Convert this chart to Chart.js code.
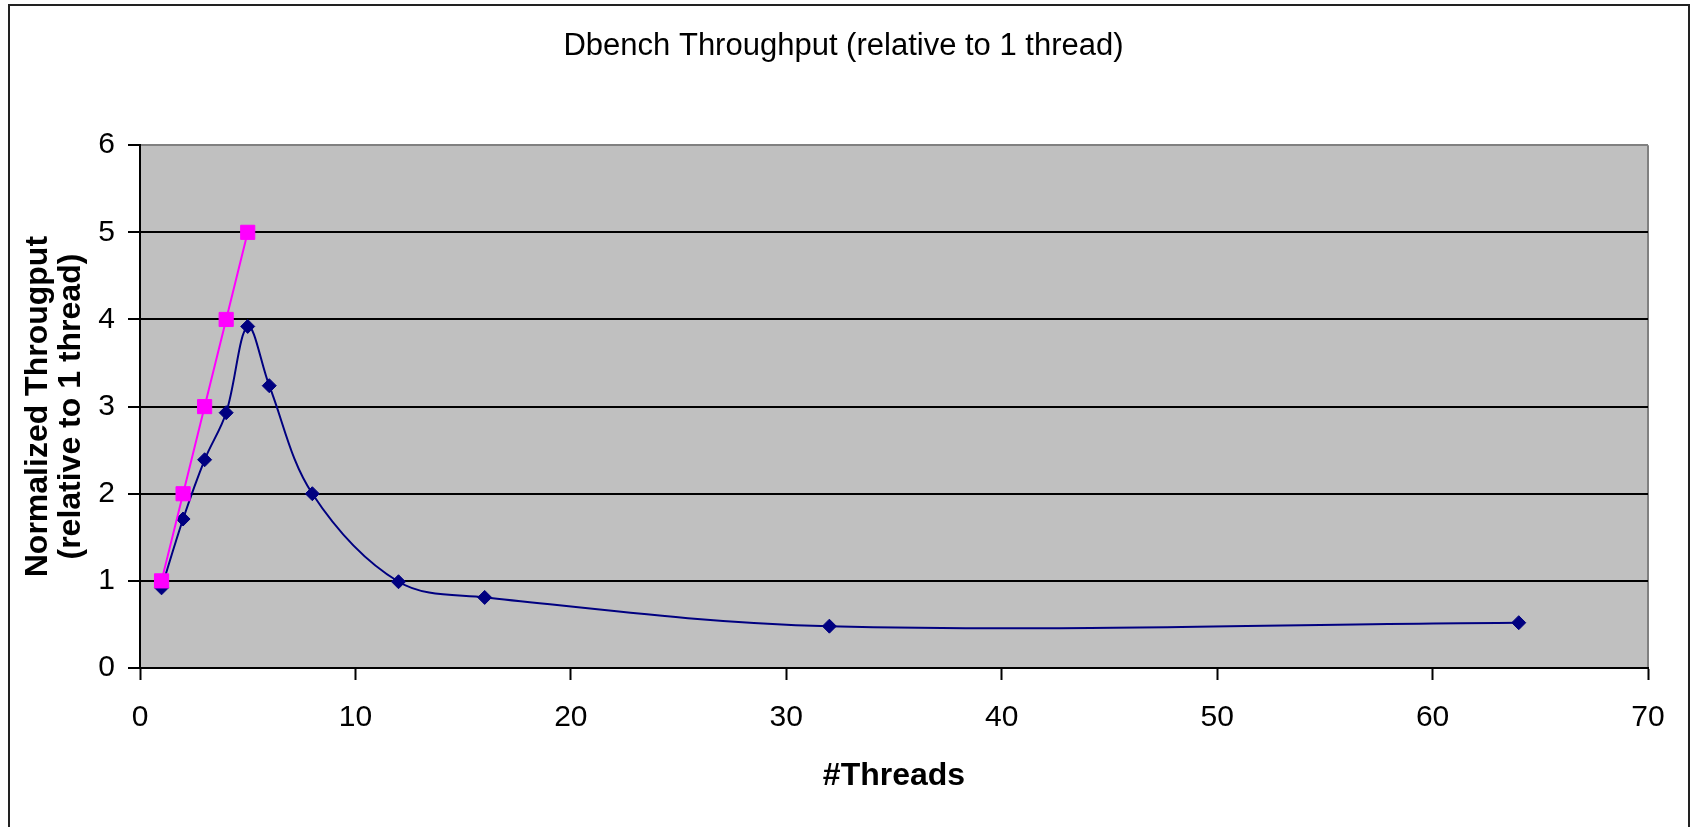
<!DOCTYPE html>
<html>
<head>
<meta charset="utf-8">
<script src="https://cdn.jsdelivr.net/npm/chart.js@4/dist/chart.umd.min.js"></script>
<style>
  html, body { margin: 0; padding: 0; background: #fff; }
  #marco { position: absolute; left: 8px; top: 4px; width: 1682px; height: 900px; border: 2px solid #222; box-sizing: border-box; }
  #contenedor { position: absolute; left: 0; top: 0; width: 1696px; height: 827px; }
</style>
</head>
<body>
<div id="marco"></div>
<div id="contenedor"><canvas id="g_dbench" width="1696" height="827"></canvas></div>
<script>
// datos
var hilos = [1, 2, 3, 4, 5, 6, 8, 12, 16, 32, 64];
var throughput = [0.92, 1.71, 2.39, 2.93, 3.92, 3.24, 2.0, 0.99, 0.81, 0.48, 0.52];
var ideal_hilos = [1, 2, 3, 4, 5];
var ideal_throughput = [1, 2, 3, 4, 5];
var x_min = 0, x_max = 70, x_paso = 10;
var y_min = 0, y_max = 6, y_paso = 1;

var fuente = "'Liberation Sans', Arial, sans-serif";

function puntos(xs, ys) {
    var res = [];
    for (let i = 0; i < xs.length; i++) {
        res.push({x: xs[i], y: ys[i]});
    }
    return res;
}

// fondo gris del area de trazado y borde derecho
var fondo_plot = {
    id: 'fondo_plot',
    beforeDraw: function (chart) {
        var a = chart.chartArea;
        var ctx = chart.ctx;
        ctx.save();
        ctx.fillStyle = '#C0C0C0';
        ctx.fillRect(a.left, a.top, a.right - a.left, a.bottom - a.top);
        ctx.strokeStyle = '#808080';
        ctx.lineWidth = 2;
        ctx.beginPath();
        ctx.moveTo(a.right, a.top);
        ctx.lineTo(a.right, a.bottom);
        ctx.stroke();
        ctx.restore();
    }
};

var ctx = document.getElementById('g_dbench').getContext('2d');
var myChart = new Chart(ctx, {
    type: 'scatter',
    data: {
        datasets: [{
            data: puntos(ideal_hilos, ideal_throughput),
            showLine: true,
            borderColor: '#FF00FF',
            backgroundColor: '#FF00FF',
            borderWidth: 2,
            pointStyle: 'rect',
            pointRadius: 10,
            pointHoverRadius: 10,
            pointBorderWidth: 1,
            tension: 0
        }, {
            data: puntos(hilos, throughput),
            showLine: true,
            borderColor: '#000080',
            backgroundColor: '#000080',
            borderWidth: 2,
            pointStyle: 'rectRot',
            pointRadius: 7,
            pointHoverRadius: 7,
            pointBorderWidth: 1,
            tension: 0.35
        }]
    },
    options: {
        responsive: false,
        animation: false,
        layout: {
            padding: {left: 39, right: 48, top: 0, bottom: 0}
        },
        plugins: {
            legend: {display: false},
            tooltip: {enabled: false},
            title: {
                display: true,
                text: 'Dbench Throughput (relative to 1 thread)',
                color: '#000',
                font: {family: fuente, size: 31, weight: 'normal', lineHeight: 1.2},
                padding: {top: 28, bottom: 80}
            }
        },
        scales: {
            x: {
                type: 'linear',
                min: x_min,
                max: x_max,
                afterFit: function (scale) { scale.height = 159; },
                ticks: {
                    stepSize: x_paso,
                    color: '#000',
                    padding: 20,
                    font: {family: fuente, size: 30, lineHeight: 1.2}
                },
                grid: {
                    drawOnChartArea: false,
                    drawTicks: true,
                    tickLength: 12,
                    tickColor: '#000',
                    tickWidth: 2
                },
                border: {color: '#000', width: 2},
                title: {
                    display: true,
                    text: '#Threads',
                    color: '#000',
                    font: {family: fuente, size: 32, weight: 'bold', lineHeight: 1.2},
                    padding: {top: 0, bottom: 32}
                }
            },
            y: {
                type: 'linear',
                min: y_min,
                max: y_max,
                afterFit: function (scale) { scale.width = 101; },
                ticks: {
                    stepSize: y_paso,
                    color: '#000',
                    padding: 13,
                    font: {family: fuente, size: 30, lineHeight: 1.2}
                },
                grid: {
                    color: function (c) { return c.tick && c.tick.value === y_max ? '#808080' : '#000'; },
                    lineWidth: 2,
                    drawTicks: true,
                    tickLength: 12,
                    tickColor: '#000',
                    tickWidth: 2
                },
                border: {color: '#000', width: 2},
                title: {
                    display: true,
                    text: ['Normalized Througput', '(relative to 1 thread)'],
                    color: '#000',
                    font: {family: fuente, size: 32, weight: 'bold', lineHeight: 1.05},
                    padding: {top: -18, bottom: 0}
                }
            }
        }
    },
    plugins: [fondo_plot]
});
</script>
</body>
</html>
